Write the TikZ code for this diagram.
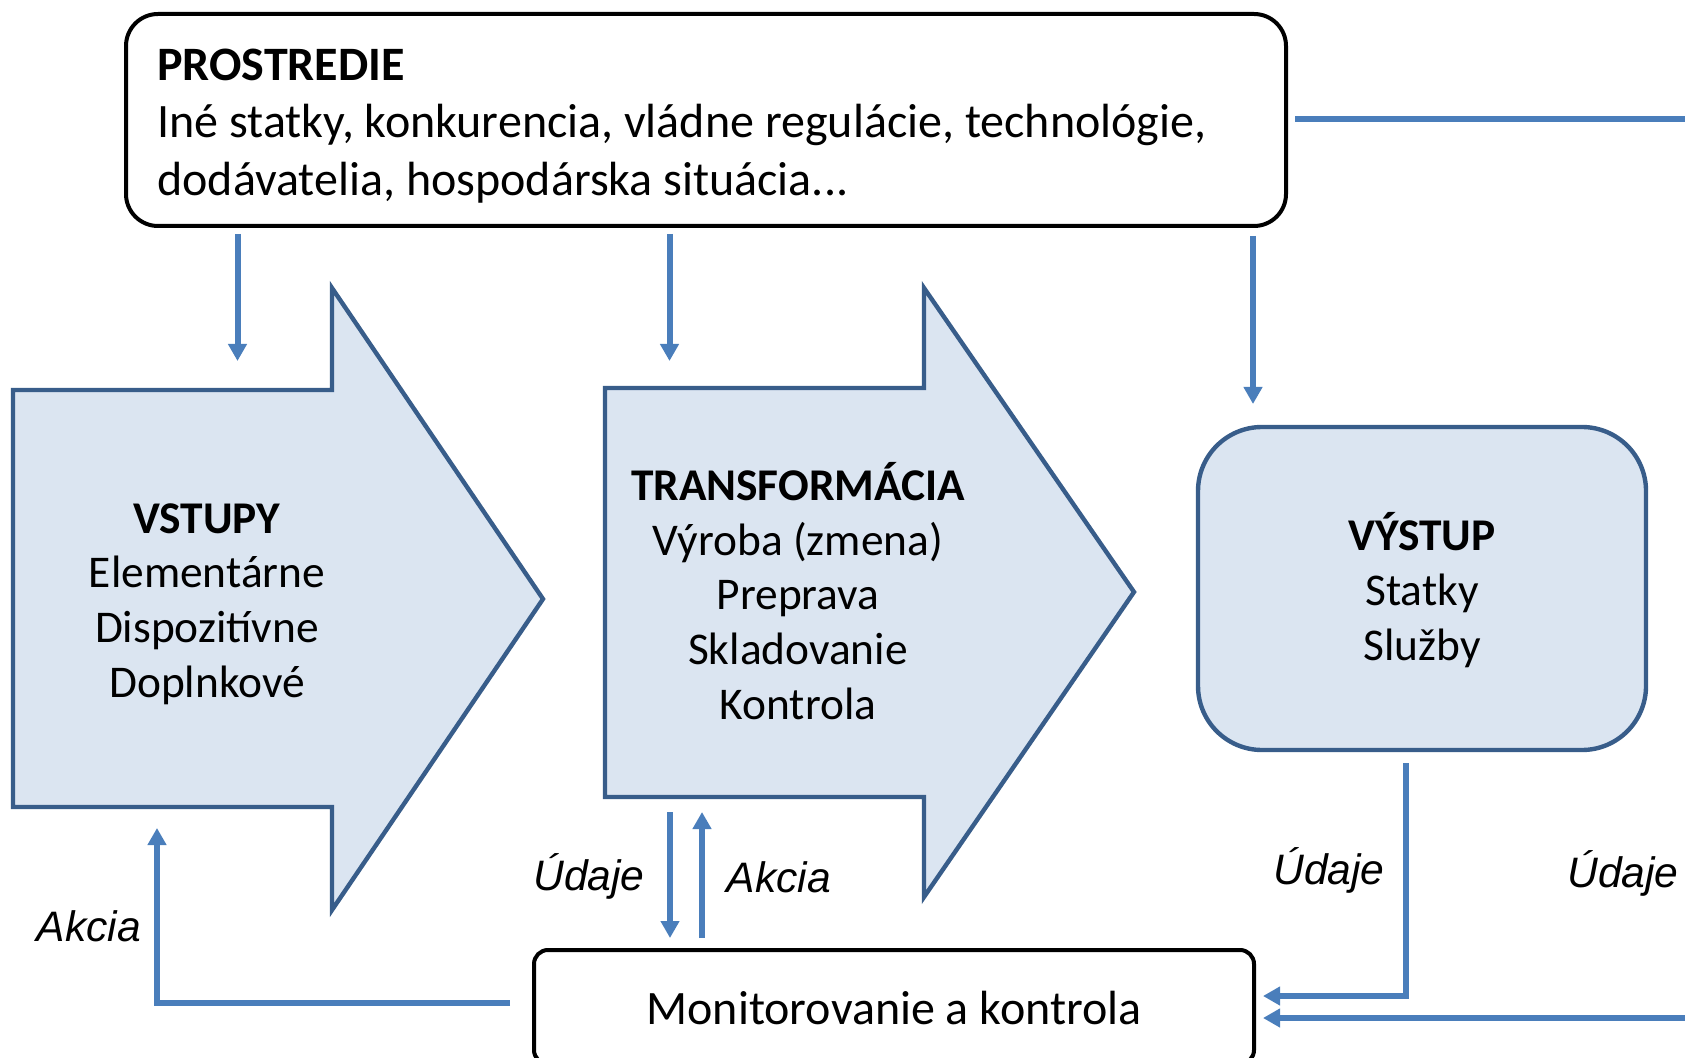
\documentclass[tikz,border=0pt]{standalone}
\usepackage{fontspec}
\setmainfont{Carlito}
\newfontfamily\labfont{Liberation Sans}
\usetikzlibrary{arrows.meta}
\definecolor{fillb}{HTML}{DBE5F1}
\definecolor{edgeb}{HTML}{385D8A}
\definecolor{lineb}{HTML}{4A7EBB}
\begin{document}
\begin{tikzpicture}[x=0.5pt,y=-0.5pt,
  conn/.style={draw=lineb, line width=3pt, -{Triangle[width=9pt,length=8.5pt]}},
  plain/.style={draw=lineb, line width=3pt},
  bigarrow/.style={draw=edgeb, fill=fillb, line width=2.2pt, line join=miter},
  body/.style={font=\fontsize{22.7}{27.4}\selectfont, align=center, inner sep=0pt},
  lbl/.style={font=\labfont\itshape\fontsize{21.3}{25}\selectfont, inner sep=0pt},
  blackbox/.style={draw=black, line width=2pt, fill=white}]
\useasboundingbox (0,0) rectangle (1685,1058);
\clip (0,0) rectangle (1685,1058);

% environment box
\node[blackbox, rounded corners=16pt, minimum width=580pt, minimum height=106pt] (env) at (706,120) {};
\node[font=\fontsize{24}{28.75}\selectfont, align=left, anchor=west, inner sep=0pt] (envtext) at (157,126)
  {\textbf{PROSTREDIE}\\Iné statky, konkurencia, vládne regulácie, technológie,\\dodávatelia, hospodárska situácia...};

% input arrow
\draw[bigarrow] (13,390) -- (332,390) -- (332,288) -- (543,599) -- (332,910) -- (332,807) -- (13,807) -- cycle;
\node[body] (vstupy) at (207,604) {\textbf{VSTUPY}\\Elementárne\\Dispozitívne\\Doplnkové};

% transformation arrow
\draw[bigarrow] (605,388) -- (924,388) -- (924,288) -- (1134,592) -- (924,897) -- (924,797) -- (605,797) -- cycle;
\node[body] (transf) at (798,591) {\textbf{TRANSFORMÁCIA}\\Výroba (zmena)\\Preprava\\Skladovanie\\Kontrola};

% output
\node[draw=edgeb, fill=fillb, line width=2.2pt, rounded corners=32pt, minimum width=224pt, minimum height=161.5pt] (vystup) at (1422,588.5) {};
\node[body] (vystuptext) at (1422,590) {\textbf{VÝSTUP}\\Statky\\Služby};

% monitoring
\node[blackbox, rounded corners=7pt, minimum width=360pt, minimum height=57pt] (mon) at (894,1007) {};
\node[font=\fontsize{24}{28}\selectfont, inner sep=0pt] (montext) at (894,1008) {Monitorovanie a kontrola};

% coordinates
\coordinate (d1a) at (237.5,234); \coordinate (d1b) at (237.5,361);
\coordinate (d2a) at (669.5,234); \coordinate (d2b) at (669.5,361);
\coordinate (d3a) at (1253,236);  \coordinate (d3b) at (1253,404);
\coordinate (r1) at (1295,119);   \coordinate (r2) at (1690,119);
\coordinate (t1a) at (670,812);   \coordinate (t1b) at (670,938);
\coordinate (t2a) at (702,938);   \coordinate (t2b) at (702,812);
\coordinate (a1) at (510,1003);   \coordinate (a2) at (157,1003); \coordinate (a3) at (157,828);
\coordinate (v1) at (1406,763);   \coordinate (v2) at (1406,996); \coordinate (v3) at (1263,996);
\coordinate (b1) at (1690,1018);  \coordinate (b2) at (1263,1018);

% connectors
\draw[conn] (d1a) -- (d1b);
\draw[conn] (d2a) -- (d2b);
\draw[conn] (d3a) -- (d3b);
\draw[plain] (r1) -- (r2);
\draw[conn] (t1a) -- (t1b);
\draw[conn] (t2a) -- (t2b);
\draw[conn] (a1) -- (a2) -- (a3);
\draw[conn] (v1) -- (v2) -- (v3);
\draw[conn] (b1) -- (b2);

% labels
\node[lbl] (l1) at (589,876) {Údaje};
\node[lbl] (l2) at (779,877) {Akcia};
\node[lbl] (l3) at (89,926) {Akcia};
\node[lbl] (l4) at (1329,870) {Údaje};
\node[lbl] (l5) at (1623,873) {Údaje};
\end{tikzpicture}
\end{document}
